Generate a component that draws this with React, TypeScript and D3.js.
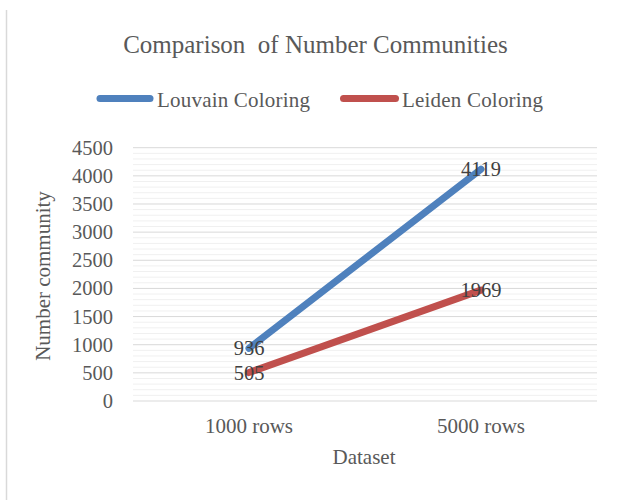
import React from "react";
import * as d3 from "d3";

const categories = ["1000 rows", "5000 rows"];
const louvain = [936, 4119];
const leiden = [505, 1969];
const seriesNames = ["Louvain Coloring", "Leiden Coloring"];
const yTicks = [0, 500, 1000, 1500, 2000, 2500, 3000, 3500, 4000, 4500];
const minorTicks = d3.range(0, 4501, 100);

const W = 619, H = 500;
const left = 133, right = 597, top = 147.7, bottom = 401;
const FONT = "'Liberation Serif', 'Times New Roman', serif";

export default function App() {
  const x = d3.scaleBand().domain(categories).range([left, right]);
  const y = d3.scaleLinear().domain([0, 4500]).range([bottom, top]);
  const cx = (i: number) => (x(categories[i]) as number) + x.bandwidth() / 2;
  const line = d3
    .line<number>()
    .x((_, i) => cx(i))
    .y((d) => y(d));
  const series = [
    { name: seriesNames[0], values: louvain, color: "#4F81BD" },
    { name: seriesNames[1], values: leiden, color: "#C0504D" },
  ];
  return (
    <svg width={W} height={H} style={{ position: "absolute", left: 0, top: 0 }}>
      <rect x={0} y={0} width={W} height={H} fill="#fff" />
      <line x1={6.5} x2={6.5} y1={10} y2={H} stroke="#d9d9d9" strokeWidth={1.5} />
      <text x={315.5} y={53} textAnchor="middle" fontFamily={FONT} fontSize={25} fill="#595959" style={{ whiteSpace: "pre" }}>
        {"Comparison  of Number Communities"}
      </text>
      {/* legend */}
      <g>
        <line x1={100} x2={150} y1={98.5} y2={98.5} stroke={series[0].color} strokeWidth={7} strokeLinecap="round" />
        <text x={157} y={107} fontFamily={FONT} fontSize={21} letterSpacing={0.2} fill="#595959">{series[0].name}</text>
        <line x1={343.5} x2={395.5} y1={98.5} y2={98.5} stroke={series[1].color} strokeWidth={7} strokeLinecap="round" />
        <text x={402} y={107} fontFamily={FONT} fontSize={21} letterSpacing={0.2} fill="#595959">{series[1].name}</text>
      </g>
      {/* grid */}
      {minorTicks.filter((t) => t % 500 !== 0).map((t) => (
        <line key={"m" + t} x1={left} x2={right} y1={y(t)} y2={y(t)} stroke="#f0f0f0" strokeWidth={1} />
      ))}
      {yTicks.map((t) => (
        <line key={"g" + t} x1={left} x2={right} y1={y(t)} y2={y(t)} stroke="#d9d9d9" strokeWidth={1} />
      ))}
      {yTicks.map((t) => (
        <text key={"t" + t} x={113} y={y(t) + 7} textAnchor="end" fontFamily={FONT} fontSize={20.5} fill="#595959">
          {t}
        </text>
      ))}
      {categories.map((c, i) => (
        <text key={c} x={cx(i)} y={433} textAnchor="middle" fontFamily={FONT} fontSize={21} fill="#595959">
          {c}
        </text>
      ))}
      <text x={364} y={464} textAnchor="middle" fontFamily={FONT} fontSize={21} fill="#595959">Dataset</text>
      <text transform={`translate(50,276) rotate(-90)`} textAnchor="middle" fontFamily={FONT} fontSize={21} fill="#595959">
        Number community
      </text>
      {series.map((s) => (
        <path key={s.name} d={line(s.values) || ""} fill="none" stroke={s.color} strokeWidth={7} strokeLinecap="round" />
      ))}
      {series.map((s) =>
        s.values.map((v, i) => (
          <text key={s.name + i} x={cx(i)} y={y(v) + 7} textAnchor="middle" fontFamily={FONT} fontSize={20.5} fill="#404040">
            {v}
          </text>
        ))
      )}
    </svg>
  );
}
